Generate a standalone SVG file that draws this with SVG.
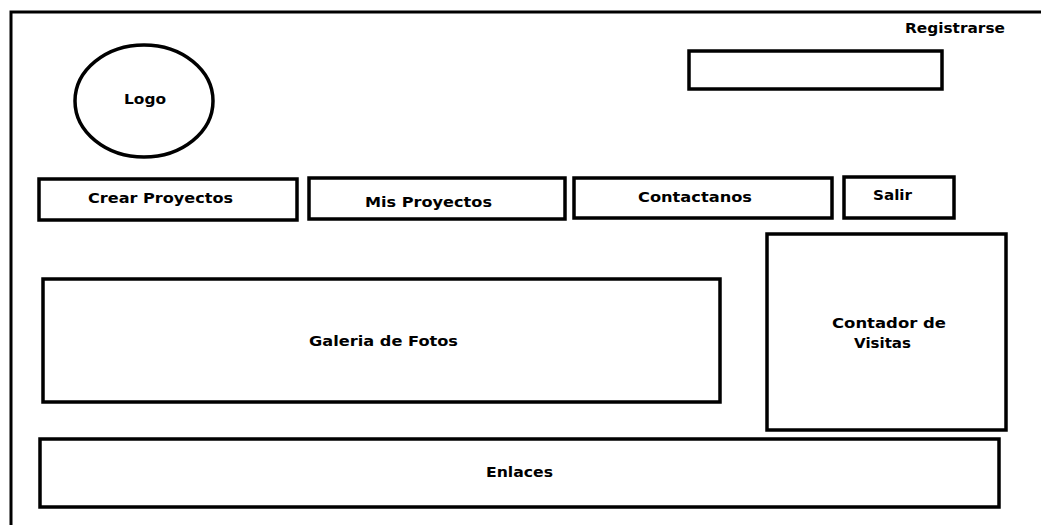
<svg xmlns="http://www.w3.org/2000/svg" width="1041" height="525" viewBox="0 0 1041 525">
<style>
.box{fill:#fff;stroke:#000;stroke-width:3.5}
.frame{fill:none;stroke:#000;stroke-width:3}
.t{font-family:"DejaVu Sans","Liberation Sans",sans-serif;font-weight:bold;font-size:14px;fill:#000}
</style>
<rect width="1041" height="525" fill="#fff"/>
<g id="frame"><path class="frame" d="M11,527 V12 H1043"/></g>
<g id="logo"><ellipse class="box" cx="144" cy="101" rx="69" ry="56"/><text class="t" x="124" y="104" textLength="42" lengthAdjust="spacingAndGlyphs">Logo</text></g>
<g id="registrarse"><text class="t" x="905" y="33" textLength="100" lengthAdjust="spacingAndGlyphs">Registrarse</text></g>
<g id="search"><rect class="box" x="689" y="51" width="253" height="38"/></g>
<g id="crear"><rect class="box" x="39" y="179" width="258" height="41"/><text class="t" x="88" y="203" textLength="145" lengthAdjust="spacingAndGlyphs">Crear Proyectos</text></g>
<g id="mis"><rect class="box" x="309" y="178" width="256" height="41"/><text class="t" x="365" y="207" textLength="127" lengthAdjust="spacingAndGlyphs">Mis Proyectos</text></g>
<g id="contactanos"><rect class="box" x="574" y="178" width="258" height="40"/><text class="t" x="638" y="202" textLength="114" lengthAdjust="spacingAndGlyphs">Contactanos</text></g>
<g id="salir"><rect class="box" x="844" y="177" width="110" height="41"/><text class="t" x="873" y="200" textLength="39" lengthAdjust="spacingAndGlyphs">Salir</text></g>
<g id="contador"><rect class="box" x="767" y="234" width="239" height="196"/><text class="t" x="832" y="328" textLength="114" lengthAdjust="spacingAndGlyphs">Contador de</text><text class="t" x="854" y="348" textLength="57" lengthAdjust="spacingAndGlyphs">Visitas</text></g>
<g id="galeria"><rect class="box" x="43" y="279" width="677" height="123"/><text class="t" x="309" y="346" textLength="149" lengthAdjust="spacingAndGlyphs">Galeria de Fotos</text></g>
<g id="enlaces"><rect class="box" x="40" y="439" width="959" height="68"/><text class="t" x="486" y="477" textLength="67" lengthAdjust="spacingAndGlyphs">Enlaces</text></g>
<g id="connectors"/>
</svg>
